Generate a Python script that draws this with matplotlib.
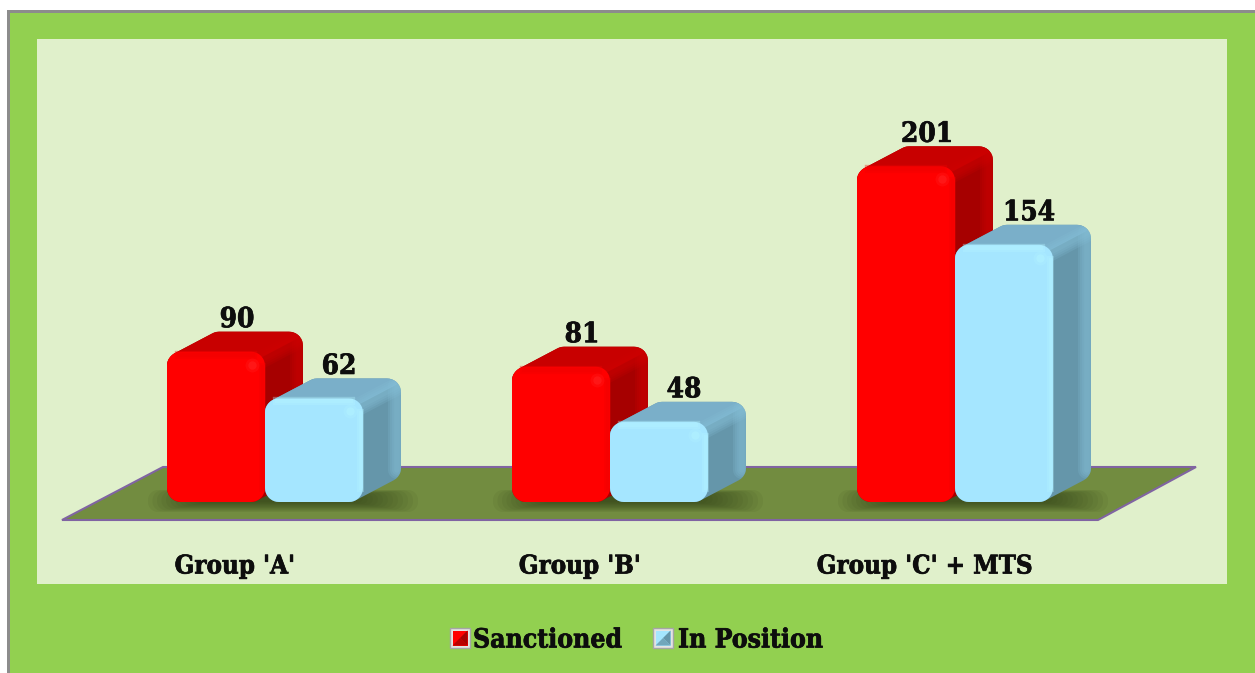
import matplotlib
matplotlib.use("Agg")
import matplotlib.pyplot as plt
import matplotlib.patheffects as pe
import numpy as np
from matplotlib.patches import Polygon, Rectangle

plt.rcParams['font.family'] = ['DejaVu Serif']

categories = ["Group 'A'", "Group 'B'", "Group 'C' + MTS"]
sanctioned = [90, 81, 201]
in_position = [62, 48, 154]
series_names = ["Sanctioned", "In Position"]

W, H = 1255, 673
PX_X = 1 / 345.0     # one pixel in category units
PX_Y = 1 / 1.67      # one pixel in value units
BASE_PX = 502        # pixel row of value 0
CENTER_PX = 265      # pixel column of category 0
BAR_W = 98
DX, DY = 38, 20

RED = dict(front='#ff0000', top='#c80000', side='#a60000', bevel='#d00000',
           edge='#f00000', hi='#ff3030')
BLUE = dict(front='#a5e6ff', top='#7aafc9', side='#6596aa', bevel='#86c0d8',
            edge='#b4f4ff', hi='#b8f8ff')
TEXT_KW = dict(fontweight='bold', stretch='condensed', color='#0d0d0d', zorder=7,
               path_effects=[pe.withStroke(linewidth=0.5, foreground='#0d0d0d')])


def px(x, y):
    """pixel position (from top left) to data position"""
    return (x - CENTER_PX) * PX_X, (BASE_PX - y) * PX_Y


def round_rect(x0, y0, x1, y1, r, n=10):
    pts = []
    corners = [(x1 - r, y1 - r, 0), (x0 + r, y1 - r, 90), (x0 + r, y0 + r, 180), (x1 - r, y0 + r, 270)]
    for cx, cy, a in corners:
        t = np.radians(np.linspace(a, a + 90, n))
        pts.append(np.column_stack([cx + r * np.cos(t), cy + r * np.sin(t)]))
    return np.vstack(pts)


def hull(points):
    pts = sorted(map(tuple, points))

    def half(seq):
        out = []
        for p in seq:
            while len(out) > 1 and (out[-1][0] - out[-2][0]) * (p[1] - out[-2][1]) - (out[-1][1] - out[-2][1]) * (p[0] - out[-2][0]) <= 0:
                out.pop()
            out.append(p)
        return out[:-1]
    return np.array(half(pts) + half(pts[::-1]))


def draw_bar(ax, xc, value, col, z):
    # offsets in pixels from the bar's foot, so corners stay round
    r = 14

    def scale(p):
        p = np.asarray(p, dtype=float)
        return np.column_stack([xc + p[:, 0] * PX_X, p[:, 1] * PX_Y])

    hp = value / PX_Y
    front = round_rect(0, 0, BAR_W, hp, r)
    back = front + [DX, DY]
    body = Polygon(scale(hull(np.vstack([front, back]))), closed=True, fc=col['side'], ec='none', zorder=z)
    ax.add_patch(body)

    # top face, cut by the outline
    top = [[-5, hp - r], [DX - 5, hp + DY + 5], [BAR_W + DX + 5, hp + DY + 5],
           [BAR_W + DX - 4, hp + DY - 6], [BAR_W - 4, hp - 6]]
    p = Polygon(scale(top), closed=True, fc=col['top'], ec='none', zorder=z + 0.1)
    ax.add_patch(p)
    p.set_clip_path(body)

    # soft rounded ridges on the side
    ridges = [[(BAR_W - 4, hp - 8), (BAR_W + DX - 4, hp + DY - 8)],
              [(BAR_W + DX - 4, hp + DY - 8), (BAR_W + DX - 4, DY + 12)]]
    for seg in ridges:
        seg = scale(seg)
        for lw in (13, 10, 7, 4):
            ln, = ax.plot(seg[:, 0], seg[:, 1], color=col['bevel'], lw=lw, alpha=0.2,
                          solid_capstyle='round', zorder=z + 0.2)
            ln.set_clip_path(body)

    # front face
    ax.add_patch(Polygon(scale(front), closed=True, fc=col['front'], ec='none', zorder=z + 0.3))
    seg = scale([(r - 2, hp - 3), (BAR_W - r + 2, hp - 3)])
    for lw in (6, 3):
        ax.plot(seg[:, 0], seg[:, 1], color=col['edge'], lw=lw, alpha=0.35, zorder=z + 0.35)
    seg = scale([(BAR_W - 3, hp - r), (BAR_W - 3, r)])
    for lw in (5, 2.5):
        ax.plot(seg[:, 0], seg[:, 1], color=col['edge'], lw=lw, alpha=0.3, zorder=z + 0.35)
    seg = scale([(BAR_W - 13, hp - 13)])
    for ms, a in ((10, 0.2), (6, 0.35)):
        ax.plot(seg[:, 0], seg[:, 1], 'o', color=col['hi'], ms=ms, mec='none', alpha=a, zorder=z + 0.4)


fig = plt.figure(figsize=(W / 100, H / 100), dpi=100, facecolor='white')
ax = fig.add_axes([0, 0, 1, 1])
ax.set_xlim(px(0, 0)[0], px(W, 0)[0])
ax.set_ylim(px(0, H)[1], px(0, 0)[1])
ax.axis('off')


def box(x0, y0, x1, y1, **kw):
    a = px(x0, y1)
    b = px(x1, y0)
    ax.add_patch(Rectangle(a, b[0] - a[0], b[1] - a[1], **kw))


# backgrounds
box(7, 10, W + 5, H + 5, fc='#92d050', ec='none', zorder=0)
box(7, 10, 10, H, fc='#8c8c8c', ec='none', zorder=0.1)
box(7, 10, W, 13, fc='#8c8c8c', ec='none', zorder=0.1)
box(37, 39, 1227, 584, fc='#e0f0cb', ec='none', zorder=0.2)

# floor
floor = [px(62, 520), px(1098, 520), px(1196, 467), px(163, 467)]
ax.add_patch(Polygon(floor, closed=True, fc='#728c40', ec='#8064a2', lw=1.5, zorder=1))

for i in range(len(categories)):
    # soft shadow below each pair of bars
    for k in range(14):
        pts = round_rect(-117 + k * 4.5, -10 + k * 0.8, 153 - k * 5, 12 - k * 0.4, 10 - k * 0.4)
        pts = np.column_stack([i + pts[:, 0] * PX_X, pts[:, 1] * PX_Y])
        ax.add_patch(Polygon(pts, closed=True, fc='#2c3a14', ec='none', alpha=0.07, zorder=2))

    draw_bar(ax, i - BAR_W * PX_X, sanctioned[i], RED, 3)
    draw_bar(ax, i, in_position[i], BLUE, 4)

    # value labels above the back edge of the bars
    ax.text(i + (-BAR_W / 2 + 21) * PX_X, sanctioned[i] + (DY + 12) * PX_Y, str(sanctioned[i]),
            ha='center', va='center', fontsize=20, **TEXT_KW)
    ax.text(i + (BAR_W / 2 + 25) * PX_X, in_position[i] + (DY + 12) * PX_Y, str(in_position[i]),
            ha='center', va='center', fontsize=20, **TEXT_KW)

    ax.text(i - 30 * PX_X, px(0, 566)[1], categories[i], ha='center', va='center', fontsize=18.5, **TEXT_KW)


def swatch(x0, y0, s, light, dark):
    box(x0, y0, x0 + s, y0 + s, fc='#e4e4e4', ec='#a6a6a6', lw=1, zorder=6)
    a, b, c, d = px(x0 + 2.5, y0 + 2.5), px(x0 + s - 2.5, y0 + 2.5), px(x0 + s - 2.5, y0 + s - 2.5), px(x0 + 2.5, y0 + s - 2.5)
    e = px(x0 + s / 2, y0 + s / 2)
    ax.add_patch(Polygon([a, b, c, d], closed=True, fc=light, ec='none', zorder=6.1))
    ax.add_patch(Polygon([b, c, e], closed=True, fc=dark, ec='none', zorder=6.2))
    ax.add_patch(Polygon([c, d, e], closed=True, fc=dark, ec='none', alpha=0.8, zorder=6.2))


# legend
swatch(450, 628, 20, RED['front'], RED['side'])
swatch(653, 628, 20, BLUE['front'], BLUE['side'])
ax.text(*px(473, 640), series_names[0], ha='left', va='center', fontsize=19, **TEXT_KW)
ax.text(*px(678, 640), series_names[1], ha='left', va='center', fontsize=19, **TEXT_KW)

fig.savefig("out.png", dpi=100)
